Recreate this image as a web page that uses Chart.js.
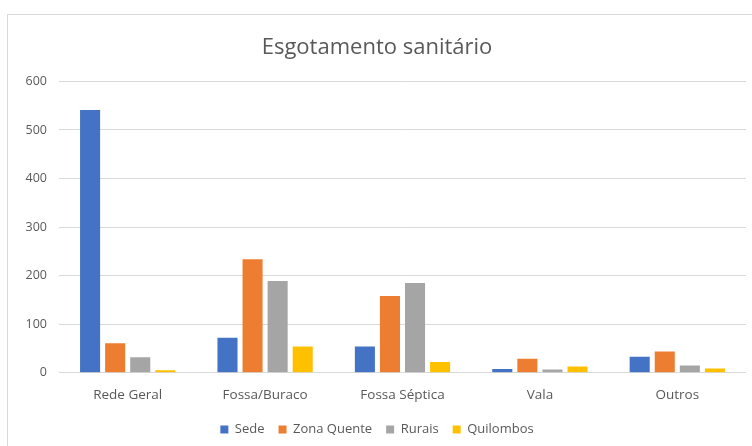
<!DOCTYPE html>
<html>
<head>
<meta charset="utf-8">
<script src="https://cdn.jsdelivr.net/npm/chart.js@4"></script>
<style>
  html, body { margin: 0; padding: 0; background: #fff; }
  body { width: 752px; height: 446px; overflow: hidden; position: relative; }
  #frame {
    position: absolute; left: 7px; top: 14px; width: 745px; height: 432px;
    border-top: 1px solid #d9d9d9; border-left: 1px solid #d9d9d9; box-sizing: border-box;
  }
  #wrap { position: absolute; left: 0; top: 0; width: 744px; height: 431px; }
</style>
</head>
<body>
<div id="frame"><div id="wrap"><canvas id="c"></canvas></div></div>
<script>
// Sewage destination by area
const categories = ['Rede Geral', 'Fossa/Buraco', 'Fossa Séptica', 'Vala', 'Outros'];
const seriesNames = ['Sede', 'Zona Quente', 'Rurais', 'Quilombos'];
const sede       = [541, 72, 54, 8, 33];
const zonaQuente = [61, 234, 158, 29, 44];
const rurais     = [32, 189, 185, 7, 15];
const quilombos  = [5, 54, 22, 13, 9];
const yTicks = [0, 100, 200, 300, 400, 500, 600];

const colors = ['#4472C4', '#ED7D31', '#A5A5A5', '#FFC000'];
const values = [sede, zonaQuente, rurais, quilombos];
const textColor = '#595959';
const font = "'Open Sans', 'DejaVu Sans', sans-serif";

new Chart(document.getElementById('c'), {
  type: 'bar',
  data: {
    labels: categories,
    datasets: seriesNames.map((name, i) => ({
      label: name,
      data: values[i],
      backgroundColor: colors[i],
      borderWidth: 0,
      barPercentage: 0.8,
      categoryPercentage: 0.73
    }))
  },
  options: {
    responsive: true,
    maintainAspectRatio: false,
    animation: false,
    layout: { padding: { left: 0, right: 6, top: 0, bottom: 0 } },
    plugins: {
      title: {
        display: true,
        text: 'Esgotamento sanitário',
        color: textColor,
        font: { family: font, size: 22, weight: 'normal' },
        padding: { top: 20, bottom: 20 }
      },
      legend: {
        position: 'bottom',
        labels: {
          color: textColor,
          font: { family: font, size: 13 },
          boxWidth: 8,
          boxHeight: 8,
          padding: 14
        }
      },
      tooltip: { enabled: false }
    },
    scales: {
      x: {
        grid: { display: false },
        border: { display: false },
        ticks: { color: textColor, font: { family: font, size: 13.5 }, padding: 6 }
      },
      y: {
        min: 0,
        max: 600,
        afterBuildTicks: (scale) => { scale.ticks = yTicks.map(v => ({ value: v })); },
        afterFit: (scale) => { scale.width = 51; },
        grid: { color: '#d9d9d9', drawTicks: false },
        border: { display: false },
        ticks: { color: textColor, font: { family: font, size: 12.5 }, padding: 12 }
      }
    }
  }
});
</script>
</body>
</html>
